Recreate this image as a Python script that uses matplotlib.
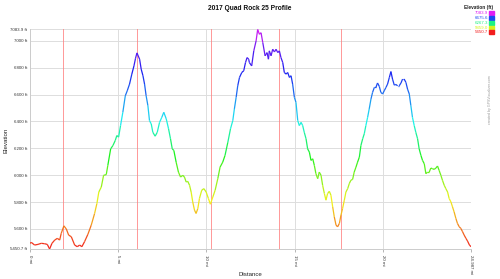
import numpy as np
import matplotlib
matplotlib.use("Agg")
import matplotlib.pyplot as plt
from matplotlib.collections import LineCollection
from matplotlib.colors import hsv_to_rgb

plt.rcParams["font.family"] = ["Liberation Sans", "DejaVu Sans"]

# ---- data ----
dist_mi = [0.0, 0.075, 0.26, 0.45, 0.64, 0.83, 0.98, 1.11, 1.245, 1.40, 1.55, 1.68, 1.77, 1.92,
           2.06, 2.19, 2.34, 2.53, 2.68, 2.81, 2.94, 3.09, 3.28, 3.47, 3.66, 3.79, 3.90, 4.04,
           4.17, 4.32, 4.41, 4.57, 4.70, 4.83, 4.92, 5.02, 5.13, 5.26, 5.40, 5.51, 5.64, 5.77,
           5.89, 5.98, 6.06, 6.21, 6.30, 6.40, 6.49, 6.58, 6.68, 6.77, 6.87, 6.96, 7.09, 7.21,
           7.34, 7.47, 7.58, 7.72, 7.85, 7.96, 8.06, 8.15, 8.28, 8.41, 8.53, 8.66, 8.75, 8.85,
           8.94, 9.04, 9.13, 9.22, 9.32, 9.41, 9.51, 9.60, 9.73, 9.85, 9.98, 10.11, 10.22, 10.36,
           10.49, 10.64, 10.77, 10.92, 11.05, 11.21, 11.36, 11.49, 11.58, 11.68, 11.77, 11.87,
           12.00, 12.11, 12.21, 12.30, 12.39, 12.43, 12.56, 12.68, 12.81, 12.90, 13.00, 13.09,
           13.19, 13.32, 13.43, 13.51, 13.56, 13.66, 13.75, 13.85, 13.94, 14.04, 14.13, 14.22,
           14.32, 14.41, 14.51, 14.60, 14.70, 14.79, 14.88, 14.98, 15.07, 15.17, 15.26, 15.36,
           15.45, 15.54, 15.64, 15.73, 15.83, 15.92, 16.02, 16.11, 16.20, 16.30, 16.39, 16.49,
           16.58, 16.68, 16.77, 16.86, 16.96, 17.05, 17.15, 17.24, 17.34, 17.43, 17.53, 17.62,
           17.71, 17.81, 17.90, 18.00, 18.09, 18.18, 18.28, 18.37, 18.47, 18.56, 18.66, 18.75,
           18.85, 18.94, 19.03, 19.13, 19.22, 19.32, 19.41, 19.51, 19.60, 19.69, 19.79, 19.88,
           19.98, 20.07, 20.17, 20.26, 20.36, 20.45, 20.54, 20.64, 20.73, 20.83, 20.92, 21.02,
           21.11, 21.20, 21.30, 21.39, 21.49, 21.58, 21.67, 21.77, 21.86, 21.96, 22.05, 22.15,
           22.24, 22.34, 22.43, 22.52, 22.62, 22.71, 22.81, 22.90, 23.00, 23.09, 23.18, 23.28,
           23.37, 23.47, 23.56, 23.66, 23.75, 23.85, 23.94, 24.03, 24.13, 24.22, 24.32, 24.41,
           24.51, 24.60, 24.70, 24.79, 24.90, 24.987]
elev_ft = [5493, 5500, 5480, 5485, 5493, 5490, 5485, 5450.7, 5493, 5517, 5530, 5517, 5567, 5623,
           5599, 5554, 5542, 5480, 5468, 5480, 5468, 5505, 5560, 5628, 5715, 5789, 5875, 5912,
           5999, 6004, 6073, 6196, 6221, 6258, 6295, 6283, 6369, 6468, 6591, 6628, 6678, 6752,
           6813, 6870, 6910, 6863, 6789, 6740, 6678, 6591, 6517, 6406, 6381, 6319, 6290, 6319,
           6393, 6431, 6468, 6419, 6345, 6271, 6196, 6184, 6097, 6023, 5986, 5999, 5986, 5949,
           5954, 5925, 5875, 5801, 5740, 5715, 5752, 5826, 5888, 5900, 5875, 5826, 5784, 5838,
           5888, 5974, 6060, 6097, 6147, 6245, 6345, 6406, 6493, 6579, 6665, 6727,
           6764, 6777, 6838, 6875, 6863, 6838, 6813, 6925, 6999, 7083.9, 7048, 7060,
           6986, 6888, 6912, 6863, 6925, 6888, 6937, 6917, 6937, 6912, 6925, 6875,
           6838, 6764, 6752, 6764, 6727, 6740, 6678, 6579, 6542, 6406, 6369, 6393,
           6369, 6319, 6271, 6196, 6171, 6110, 6122, 6073, 6011, 5974, 6023, 5999,
           5925, 5863, 5814, 5863, 5880, 5851, 5764, 5690, 5628, 5616, 5641, 5703,
           5752, 5814, 5875, 5900, 5937, 5962, 5969, 6023, 6060, 6097, 6134, 6221,
           6271, 6308, 6369, 6431, 6493, 6567, 6616, 6653, 6653, 6686, 6661, 6616,
           6604, 6628, 6653, 6678, 6727, 6771, 6715, 6670, 6675, 6665, 6665, 6686,
           6715, 6715, 6690, 6641, 6604, 6517, 6431, 6369, 6319, 6271, 6196, 6147,
           6110, 6085, 6011, 6023, 6023, 6053, 6048, 6043, 6053, 6068, 6036, 5999,
           5962, 5925, 5900, 5875, 5826, 5801, 5764, 5727, 5678, 5641, 5616, 5604,
           5579, 5554, 5530, 5510, 5480, 5468]
marker_mi = [1.87, 6.06, 10.24, 14.09, 17.6]
x_ticks = [0, 5, 10, 15, 20, 24.987]
x_tick_labels = ["0 mi", "5 mi", "10 mi", "15 mi", "20 mi", "24.987 mi"]
y_ticks = [5450.7, 5600, 5800, 6000, 6200, 6400, 6600, 6800, 7000, 7083.9]
y_tick_labels = ["5450.7 ft", "5600 ft", "5800 ft", "6000 ft", "6200 ft", "6400 ft",
                 "6600 ft", "6800 ft", "7000 ft", "7083.9 ft"]
legend_vals = ["7083.9", "6675.6", "6267.3", "5859.0", "5450.7"]

ymin, ymax = 5450.7, 7083.9
hue_t = [0.0, 0.25, 0.42, 0.6, 0.75, 0.9, 1.0]
hue_deg = [0, 68, 120, 185, 228, 258, 295]


def elev_color(v):
    t = np.clip((np.atleast_1d(np.asarray(v, dtype=float)) - ymin) / (ymax - ymin), 0, 1)
    h = np.interp(t, hue_t, hue_deg) / 360.0
    hsv = np.stack([h, np.full_like(h, 0.88), np.full_like(h, 0.95)], axis=-1)
    return hsv_to_rgb(hsv)


fig = plt.figure(figsize=(5.0, 2.79), dpi=100)
ax = fig.add_axes([30 / 500, 1 - 249 / 279, 441 / 500, 219.5 / 279])
ax.set_xlim(0, 24.987)
ax.set_ylim(ymin, ymax)

for y in y_ticks:
    ax.axhline(y, color="#dddddd", lw=0.7, zorder=0)
for x in x_ticks:
    ax.axvline(x, color="#dddddd", lw=0.7, zorder=0)
for m in marker_mi:
    ax.axvline(m, color="#ff7f7f", lw=0.7, alpha=0.8, zorder=1)

x = np.array(dist_mi)
y = np.array(elev_ft)
pts = np.column_stack([x, y]).reshape(-1, 1, 2)
segs = np.concatenate([pts[:-1], pts[1:]], axis=1)
mid = (y[:-1] + y[1:]) / 2
lc = LineCollection(segs, colors=elev_color(mid), linewidths=0.9, zorder=3)
ax.add_collection(lc)

for s in ["top", "right"]:
    ax.spines[s].set_visible(False)
for s in ["left", "bottom"]:
    ax.spines[s].set_color("#cccccc")
    ax.spines[s].set_linewidth(0.7)

ax.set_yticks(y_ticks)
ax.set_yticklabels(y_tick_labels, fontsize=3.2, color="#333333")
ax.set_xticks(x_ticks)
ax.set_xticklabels(x_tick_labels, fontsize=3.2, color="#333333", rotation=270)
ax.tick_params(axis="y", length=0, pad=2)
ax.tick_params(axis="x", length=2, width=0.5, color="#999999", pad=2)

fig.text(0.5, 1 - 8 / 279, "2017 Quad Rock 25 Profile", ha="center", va="center",
         fontsize=4.8, fontweight="bold", color="#111111")
fig.text(0.5, 1 - 275 / 279, "Distance", ha="center", va="center", fontsize=4.4, color="#222222")
fig.text(6 / 500, 1 - 140 / 279, "Elevation", ha="center", va="center", rotation=90,
         fontsize=4.4, color="#222222")
fig.text(490 / 500, 1 - 100 / 279, "created by GPSVisualizer.com", ha="center", va="center",
         rotation=90, fontsize=2.6, color="#999999")

# legend
fig.text(493 / 500, 1 - 7 / 279, "Elevation (ft)", ha="right", va="center", fontsize=3.4,
         fontweight="bold", color="#222222")
leg_y = [13, 17.7, 22.7, 27.7, 32.3]
for lab, ly in zip(legend_vals, leg_y):
    c = elev_color(float(lab))[0]
    fig.text(488 / 500, 1 - ly / 279, lab, ha="right", va="center", fontsize=3.2, color=c)
    fig.patches.append(plt.Rectangle((489 / 500, 1 - (ly + 2) / 279), 4.5 / 500, 4 / 279,
                                     transform=fig.transFigure, color=c, figure=fig))

fig.savefig("out.png", dpi=100)
